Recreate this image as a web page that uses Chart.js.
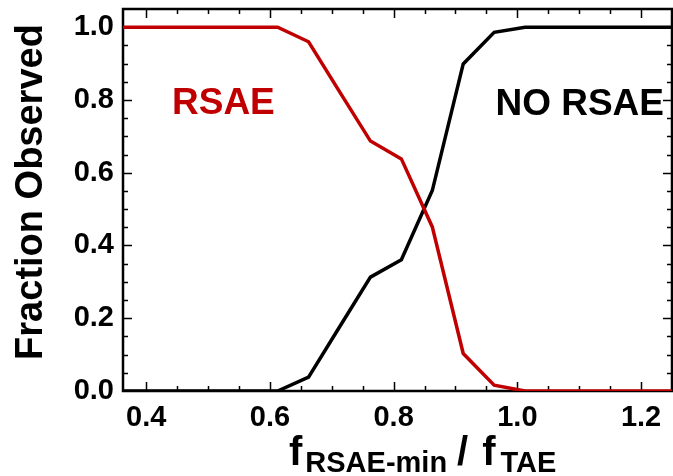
<!DOCTYPE html>
<html>
<head>
<meta charset="utf-8">
<script src="https://cdn.jsdelivr.net/npm/chart.js@4"></script>
<style>
  html, body { margin: 0; padding: 0; background: #fff; }
  canvas { display: block; }
</style>
</head>
<body>
<canvas id="myChart" width="673" height="476"></canvas>
<script>
// bin centres of f_RSAE-min / f_TAE
var binCenters = [0.3625, 0.4125, 0.4625, 0.5125, 0.5625, 0.6125, 0.6625, 0.7125, 0.7625, 0.8125,
                  0.8625, 0.9125, 0.9625, 1.0125, 1.0625, 1.1125, 1.1625, 1.2125, 1.2625];
var rsaeFraction = [1, 1, 1, 1, 1, 1, 0.96, 0.823, 0.687, 0.638,
                    0.451, 0.103, 0.016, 0, 0, 0, 0, 0, 0];
var noRsaeFraction = [0, 0, 0, 0, 0, 0, 0.038, 0.176, 0.313, 0.361,
                      0.551, 0.899, 0.986, 1, 1, 1, 1, 1, 1];
var xTickLabels = ['0.4', '0.6', '0.8', '1.0', '1.2'];
var yTickLabels = ['0.0', '0.2', '0.4', '0.6', '0.8', '1.0'];

var RED = '#c00000';
var FONT = '"Liberation Sans", Arial, Helvetica, sans-serif';

function toPoints(xs, ys) {
    return xs.map(function (x, i) { return {x: x, y: ys[i]}; });
}

// box, inward ticks, titles and labels drawn in IDL style
var idlFrame = {
    id: 'idlFrame',
    beforeDatasetsDraw: function (chart) {
        var ctx = chart.ctx, a = chart.chartArea;
        var xs = chart.scales.x, ys = chart.scales.y;
        ctx.save();
        ctx.strokeStyle = '#000';
        ctx.lineWidth = 1.5;
        ctx.beginPath();
        for (var i = 8; i * 0.05 <= xs.max + 1e-9; i++) {
            var px = Math.round(xs.getPixelForValue(i * 0.05)) + 0.5;
            var len = i % 4 === 0 ? 9 : 5;
            ctx.moveTo(px, a.bottom); ctx.lineTo(px, a.bottom - len);
            ctx.moveTo(px, a.top); ctx.lineTo(px, a.top + len);
        }
        for (var j = 1; j * 0.05 < ys.max - 1e-9; j++) {
            var py = Math.round(ys.getPixelForValue(j * 0.05)) + 0.5;
            var l2 = j % 4 === 0 ? 9 : 5;
            ctx.moveTo(a.left, py); ctx.lineTo(a.left + l2, py);
            ctx.moveTo(a.right, py); ctx.lineTo(a.right - l2, py);
        }
        ctx.stroke();
        ctx.lineWidth = 2.5;
        ctx.strokeRect(a.left, a.top, a.right - a.left, a.bottom - a.top);
        ctx.restore();
    },
    afterDraw: function (chart) {
        var ctx = chart.ctx;
        ctx.save();
        // y title
        ctx.fillStyle = '#000';
        ctx.font = 'bold 38px ' + FONT;
        ctx.textAlign = 'center';
        ctx.textBaseline = 'alphabetic';
        ctx.translate(42, 192);
        ctx.rotate(-Math.PI / 2);
        ctx.fillText('Fraction Observed', 0, 0);
        ctx.setTransform(1, 0, 0, 1, 0, 0);

        // x title with subscripts
        ctx.textAlign = 'left';
        var x = 289, base = 465, sub = 472;
        ctx.font = 'bold 40px ' + FONT;
        ctx.fillText('f', x, base);
        x += ctx.measureText('f').width + 3;
        ctx.font = 'bold 29px ' + FONT;
        ctx.fillText('RSAE-min', x, sub);
        x += ctx.measureText('RSAE-min').width + 10;
        ctx.font = 'bold 40px ' + FONT;
        ctx.fillText('/', x, base);
        x += ctx.measureText('/').width + 14;
        ctx.fillText('f', x, base);
        x += ctx.measureText('f').width + 5;
        ctx.font = 'bold 29px ' + FONT;
        ctx.fillText('TAE', x, sub);

        // in-plot labels
        ctx.font = 'bold 37px ' + FONT;
        ctx.fillStyle = RED;
        ctx.textAlign = 'left';
        ctx.fillText('RSAE', 172, 114);
        ctx.fillStyle = '#000';
        ctx.textAlign = 'right';
        ctx.fillText('NO RSAE', 664, 115);
        ctx.restore();
    }
};

var ctx = document.getElementById('myChart').getContext('2d');
var chart = new Chart(ctx, {
    type: 'line',
    data: {
        datasets: [{
            label: 'RSAE',
            data: toPoints(binCenters, rsaeFraction),
            borderColor: RED,
            borderWidth: 3.5,
            pointRadius: 0,
            tension: 0,
            order: 0
        },
        {
            label: 'NO RSAE',
            data: toPoints(binCenters, noRsaeFraction),
            borderColor: '#000',
            borderWidth: 3.5,
            pointRadius: 0,
            tension: 0,
            order: 1
        }]
    },
    options: {
        responsive: false,
        animation: false,
        layout: { padding: { top: 9, right: 1, left: 0, bottom: 0 } },
        plugins: { legend: { display: false }, tooltip: { enabled: false } },
        scales: {
            x: {
                type: 'linear',
                min: 0.3625,
                max: 1.25,
                grid: { display: false, drawTicks: false },
                border: { display: false },
                afterFit: function (s) { s.height = 85; s.paddingLeft = 0; s.paddingRight = 0; },
                ticks: {
                    stepSize: 0.2,
                    includeBounds: false,
                    maxRotation: 0,
                    padding: 10,
                    color: '#000',
                    font: { family: FONT, size: 29, weight: 'bold' },
                    callback: function (v) {
                        var k = Math.round((v - 0.4) / 0.2);
                        return xTickLabels[k];
                    }
                }
            },
            y: {
                min: 0,
                max: 1.05,
                grid: { display: false, drawTicks: false },
                border: { display: false },
                afterFit: function (s) { s.width = 123; s.paddingTop = 0; s.paddingBottom = 0; },
                ticks: {
                    stepSize: 0.2,
                    includeBounds: false,
                    padding: 9,
                    color: '#000',
                    font: { family: FONT, size: 29, weight: 'bold' },
                    callback: function (v) {
                        return yTickLabels[Math.round(v / 0.2)];
                    }
                }
            }
        }
    },
    plugins: [idlFrame]
});
</script>
</body>
</html>
